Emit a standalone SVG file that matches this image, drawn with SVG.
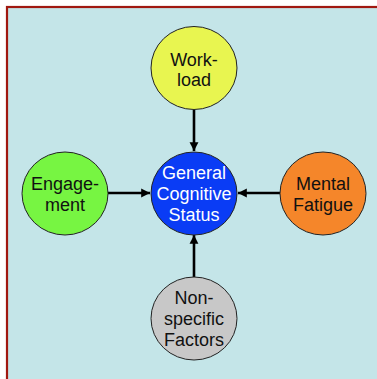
<svg xmlns="http://www.w3.org/2000/svg" width="377" height="379" viewBox="0 0 377 379">
<style>
.n{stroke:#222;stroke-width:1}
.t{font-family:"Liberation Sans",Arial,sans-serif;font-size:18px;text-anchor:middle;fill:#111}
.w{fill:#fff}
.c{stroke:#000;stroke-width:2.6;fill:none}
</style>
<defs>
<marker id="ah" viewBox="0 0 10 10" refX="10" refY="5" markerWidth="3.4" markerHeight="3.6" orient="auto" markerUnits="strokeWidth">
<path d="M0,0 L10,5 L0,10 Z" fill="#000"/>
</marker>
</defs>
<rect x="7" y="7" width="380" height="380" fill="#c4e5e8" stroke="#a01810" stroke-width="2.2"/>
<g id="connectors">
<line class="c" x1="194" y1="110" x2="194" y2="151" marker-end="url(#ah)"/>
<line class="c" x1="108" y1="193" x2="150" y2="193" marker-end="url(#ah)"/>
<line class="c" x1="280" y1="193" x2="238" y2="193" marker-end="url(#ah)"/>
<line class="c" x1="194" y1="277" x2="194" y2="235" marker-end="url(#ah)"/>
</g>
<g id="workload">
<ellipse class="n" cx="194" cy="68" rx="43" ry="41.5" fill="#e8f550"/>
<text class="t" x="194" y="65.5">Work-</text>
<text class="t" x="194" y="86">load</text>
</g>
<g id="status">
<ellipse class="n" cx="194" cy="193.5" rx="43" ry="41.5" fill="#0a3cf5"/>
<text class="t w" x="194" y="179">General</text>
<text class="t w" x="194" y="200">Cognitive</text>
<text class="t w" x="194" y="220.5">Status</text>
</g>
<g id="engagement">
<ellipse class="n" cx="65" cy="193.5" rx="43" ry="41.5" fill="#77f542"/>
<text class="t" x="65" y="190">Engage-</text>
<text class="t" x="65" y="210.5">ment</text>
</g>
<g id="fatigue">
<ellipse class="n" cx="323" cy="193.5" rx="43" ry="41.5" fill="#f5862a"/>
<text class="t" x="323" y="190">Mental</text>
<text class="t" x="323" y="210.5">Fatigue</text>
</g>
<g id="nonspecific">
<ellipse class="n" cx="194" cy="318.5" rx="43" ry="41.5" fill="#c8c8c8"/>
<text class="t" x="194" y="304">Non-</text>
<text class="t" x="194" y="325">specific</text>
<text class="t" x="194" y="345.5">Factors</text>
</g>
</svg>
